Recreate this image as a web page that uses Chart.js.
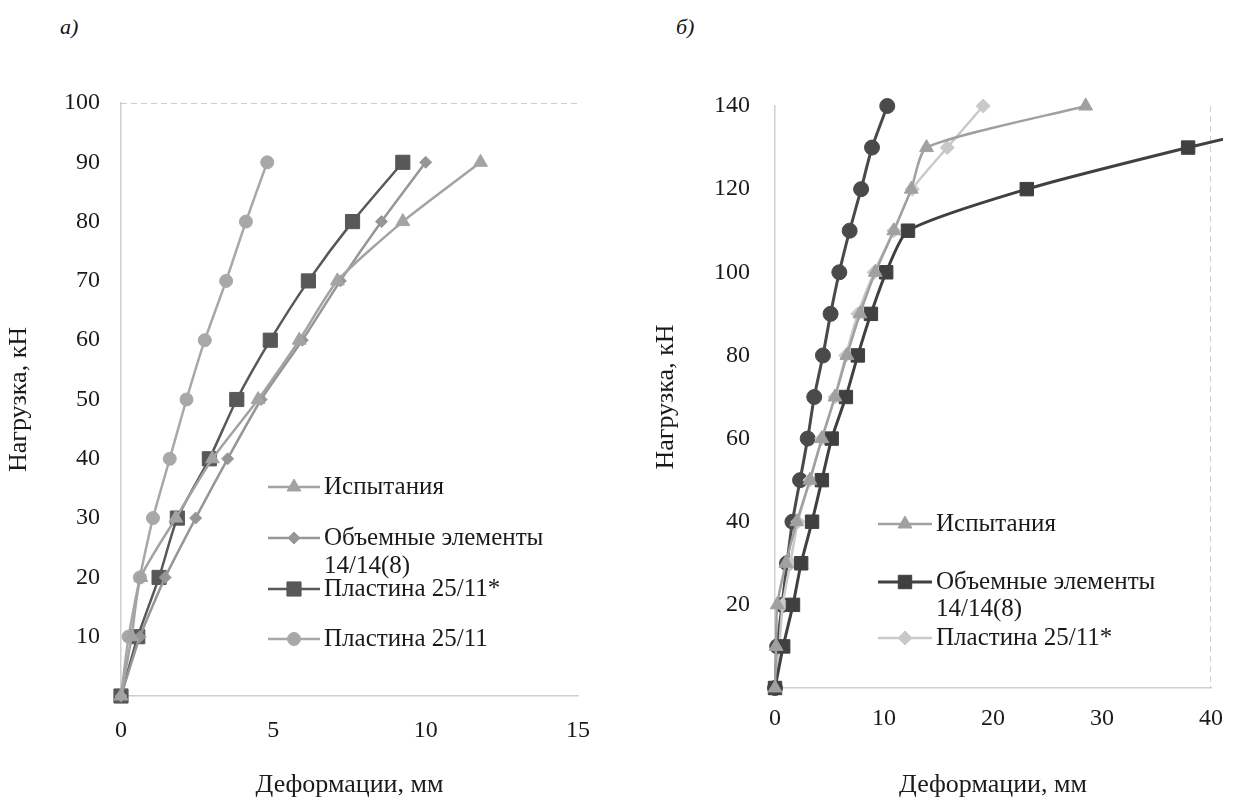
<!DOCTYPE html>
<html lang="ru">
<head>
<meta charset="utf-8">
<title>Нагрузка — деформации</title>
<script src="https://cdn.jsdelivr.net/npm/chart.js@4.4.1/dist/chart.umd.min.js"></script>
<style>
  html, body { margin: 0; padding: 0; background: #fff; }
  body { width: 1239px; height: 807px; position: relative; overflow: hidden;
         font-family: "Liberation Serif", "Times New Roman", serif; }
  .panel-label { position: absolute; top: 14px; font-size: 22px; font-style: italic; color: #111; }
  #chartA { position: absolute; left: 0; top: 0; }
  #chartB { position: absolute; left: 620px; top: 0; }
</style>
</head>
<body>
<div class="panel-label" style="left:60px">а)</div>
<div class="panel-label" style="left:676px">б)</div>
<canvas id="chartA" width="620" height="807"></canvas>
<canvas id="chartB" width="619" height="807"></canvas>
<script>
// panel а): load steps (kN) and deflections (mm) per model
var loadsA = [0, 10, 20, 30, 40, 50, 60, 70, 80, 90];
var testA = [0, 0.35, 0.65, 1.8, 3.0, 4.5, 5.85, 7.1, 9.25, 11.8];
var solidA = [0, 0.62, 1.45, 2.45, 3.5, 4.6, 5.95, 7.2, 8.55, 10.0];
var plateStarA = [0, 0.55, 1.25, 1.85, 2.9, 3.8, 4.9, 6.15, 7.6, 9.25];
var plateA = [0, 0.25, 0.62, 1.05, 1.6, 2.15, 2.75, 3.45, 4.1, 4.8];
var xTicksA = [0, 5, 10, 15];
var yTicksA = [10, 20, 30, 40, 50, 60, 70, 80, 90, 100];

// panel б)
var loadsB = [0, 10, 20, 30, 40, 50, 60, 70, 80, 90, 100, 110, 120, 130, 140];
var testB = [0, 0.1, 0.2, 1.0, 2.0, 3.2, 4.3, 5.5, 6.6, 7.8, 9.2, 10.9, 12.5, 13.9, 28.5];
var solidB = [0, 0.75, 1.65, 2.4, 3.4, 4.3, 5.2, 6.5, 7.6, 8.8, 10.2, 12.2, 23.1, 37.9, 54];
var plateStarB = [0, 0.4, 0.7, 1.4, 2.1, 3.2, 4.3, 5.5, 6.5, 7.6, 9.1, 10.9, 12.6, 15.8, 19.1];
var plateB = [0, 0.2, 0.65, 1.1, 1.6, 2.3, 3.0, 3.6, 4.4, 5.1, 5.9, 6.85, 7.9, 8.9, 10.3];
var xTicksB = [0, 10, 20, 30, 40];
var yTicksB = [20, 40, 60, 80, 100, 120, 140];

var names = [['Испытания'], ['Объемные элементы', '14/14(8)'], ['Пластина 25/11*'], ['Пластина 25/11']];
var xTitle = 'Деформации, мм';
var yTitle = 'Нагрузка, кН';

Chart.defaults.font.family = '"Liberation Serif", "Times New Roman", serif';
Chart.defaults.color = '#1a1a1a';

function points(xs, ys) {
    return xs.map(function (x, i) { return { x: x, y: ys[i] }; });
}

function series(name, xs, ys, color, style, radius, width) {
    return {
        label: name.join(' '),
        legendLines: name,
        data: points(xs, ys),
        showLine: true,
        borderColor: color,
        backgroundColor: color,
        borderWidth: width,
        pointStyle: style,
        pointRadius: radius,
        pointHoverRadius: radius,
        pointBackgroundColor: color,
        pointBorderColor: color,
        pointBorderWidth: 1,
        tension: 0.2,
        clip: { left: 12, top: 12, right: 12, bottom: 12 }
    };
}

// legend drawn inside the plot, Excel style
var insideLegend = {
    id: 'insideLegend',
    afterDatasetsDraw: function (chart, args, opts) {
        var ctx = chart.ctx;
        ctx.save();
        ctx.font = opts.font;
        ctx.textBaseline = 'middle';
        opts.rows.forEach(function (y, idx) {
            var ds = chart.data.datasets[idx];
            ctx.strokeStyle = ds.borderColor;
            ctx.lineWidth = ds.borderWidth;
            ctx.beginPath();
            ctx.moveTo(opts.x, y);
            ctx.lineTo(opts.x + opts.lineLength, y);
            ctx.stroke();
            ctx.fillStyle = ds.pointBackgroundColor;
            ctx.strokeStyle = ds.pointBorderColor;
            ctx.lineWidth = 1;
            Chart.helpers.drawPoint(ctx, { pointStyle: ds.pointStyle, radius: ds.pointRadius, rotation: 0, borderWidth: 1 },
                opts.x + opts.lineLength / 2, y);
            ctx.fillStyle = opts.color;
            ds.legendLines.forEach(function (line, i) {
                ctx.fillText(line, opts.x + opts.lineLength + 4, y + i * opts.lineHeight);
            });
        });
        ctx.restore();
    }
};

var dashedFrame = {
    id: 'dashedFrame',
    beforeDatasetsDraw: function (chart, args, opts) {
        var a = chart.chartArea, ctx = chart.ctx;
        ctx.save();
        ctx.strokeStyle = opts.color;
        ctx.lineWidth = 1;
        ctx.setLineDash([6, 4]);
        ctx.beginPath();
        if (opts.top) { ctx.moveTo(a.left, a.top + 0.5); ctx.lineTo(a.right, a.top + 0.5); }
        if (opts.right) { ctx.moveTo(a.right - 0.5, a.top); ctx.lineTo(a.right - 0.5, a.bottom); }
        ctx.stroke();
        ctx.restore();
    }
};

function makeScales(cfg) {
    return {
        x: {
            type: 'linear', min: cfg.xTicks[0], max: cfg.xTicks[cfg.xTicks.length - 1],
            afterBuildTicks: function (axis) { axis.ticks = cfg.xTicks.map(function (v) { return { value: v }; }); },
            afterFit: function (axis) { axis.height = cfg.xHeight; },
            grid: { display: false, drawTicks: false },
            border: { display: true, color: '#cfcfcf', width: 1.5 },
            ticks: { padding: cfg.xPad, font: { size: 24 }, color: '#1a1a1a' },
            title: { display: true, text: xTitle, font: { size: 26 }, padding: { top: 0, bottom: 6 }, color: '#1a1a1a' }
        },
        y: {
            type: 'linear', min: 0, max: cfg.yTicks[cfg.yTicks.length - 1],
            afterBuildTicks: function (axis) { axis.ticks = cfg.yTicks.map(function (v) { return { value: v }; }); },
            afterFit: function (axis) { axis.width = cfg.yWidth; },
            grid: { display: false, drawTicks: false },
            border: { display: true, color: '#cfcfcf', width: 1.5 },
            ticks: { padding: cfg.yPad, font: { size: 24 }, color: '#1a1a1a' },
            title: { display: true, text: yTitle, font: { size: 26 }, padding: { top: cfg.yTitlePad, bottom: 0 }, color: '#1a1a1a' }
        }
    };
}

new Chart(document.getElementById('chartA').getContext('2d'), {
    type: 'scatter',
    data: {
        datasets: [
            series(names[0], testA, loadsA, '#a3a3a3', 'triangle', 8, 2.5),
            series(names[1], solidA, loadsA, '#969696', 'rectRot', 6, 2.5),
            series(names[2], plateStarA, loadsA, '#585858', 'rect', 10, 2.5),
            series(names[3], plateA, loadsA, '#a8a8a8', 'circle', 6.5, 2.5)
        ]
    },
    options: {
        responsive: false,
        animation: false,
        events: [],
        layout: { padding: { top: 103, right: 42, left: 0, bottom: 0 } },
        scales: makeScales({ xTicks: xTicksA, yTicks: yTicksA, xHeight: 111, yWidth: 121, xPad: 20, yPad: 21, yTitlePad: 4 }),
        plugins: {
            legend: { display: false },
            tooltip: { enabled: false },
            dashedFrame: { color: '#cfcfcf', top: true, right: false },
            insideLegend: { x: 268, lineLength: 52, rows: [487, 538, 589, 639], lineHeight: 28,
                            font: '25px "Liberation Serif", serif', color: '#1a1a1a' }
        }
    },
    plugins: [dashedFrame, insideLegend]
});

new Chart(document.getElementById('chartB').getContext('2d'), {
    type: 'scatter',
    data: {
        datasets: [
            series(names[0], testB, loadsB, '#a0a0a0', 'triangle', 8, 2.5),
            series(names[1], solidB, loadsB, '#404040', 'rect', 9.5, 3),
            series(names[2], plateStarB, loadsB, '#c9c9c9', 'rectRot', 7, 2.5),
            series(names[3], plateB, loadsB, '#4a4a4a', 'circle', 7.5, 3)
        ]
    },
    options: {
        responsive: false,
        animation: false,
        events: [],
        layout: { padding: { top: 106, right: 28, left: 0, bottom: 0 } },
        scales: makeScales({ xTicks: xTicksB, yTicks: yTicksB, xHeight: 119, yWidth: 155, xPad: 16, yPad: 25, yTitlePad: 31 }),
        plugins: {
            legend: { display: false },
            tooltip: { enabled: false },
            dashedFrame: { color: '#cfcfcf', top: false, right: true },
            insideLegend: { x: 258, lineLength: 54, rows: [524, 582, 638], lineHeight: 27,
                            font: '25px "Liberation Serif", serif', color: '#1a1a1a' }
        }
    },
    plugins: [dashedFrame, insideLegend]
});
</script>
</body>
</html>
